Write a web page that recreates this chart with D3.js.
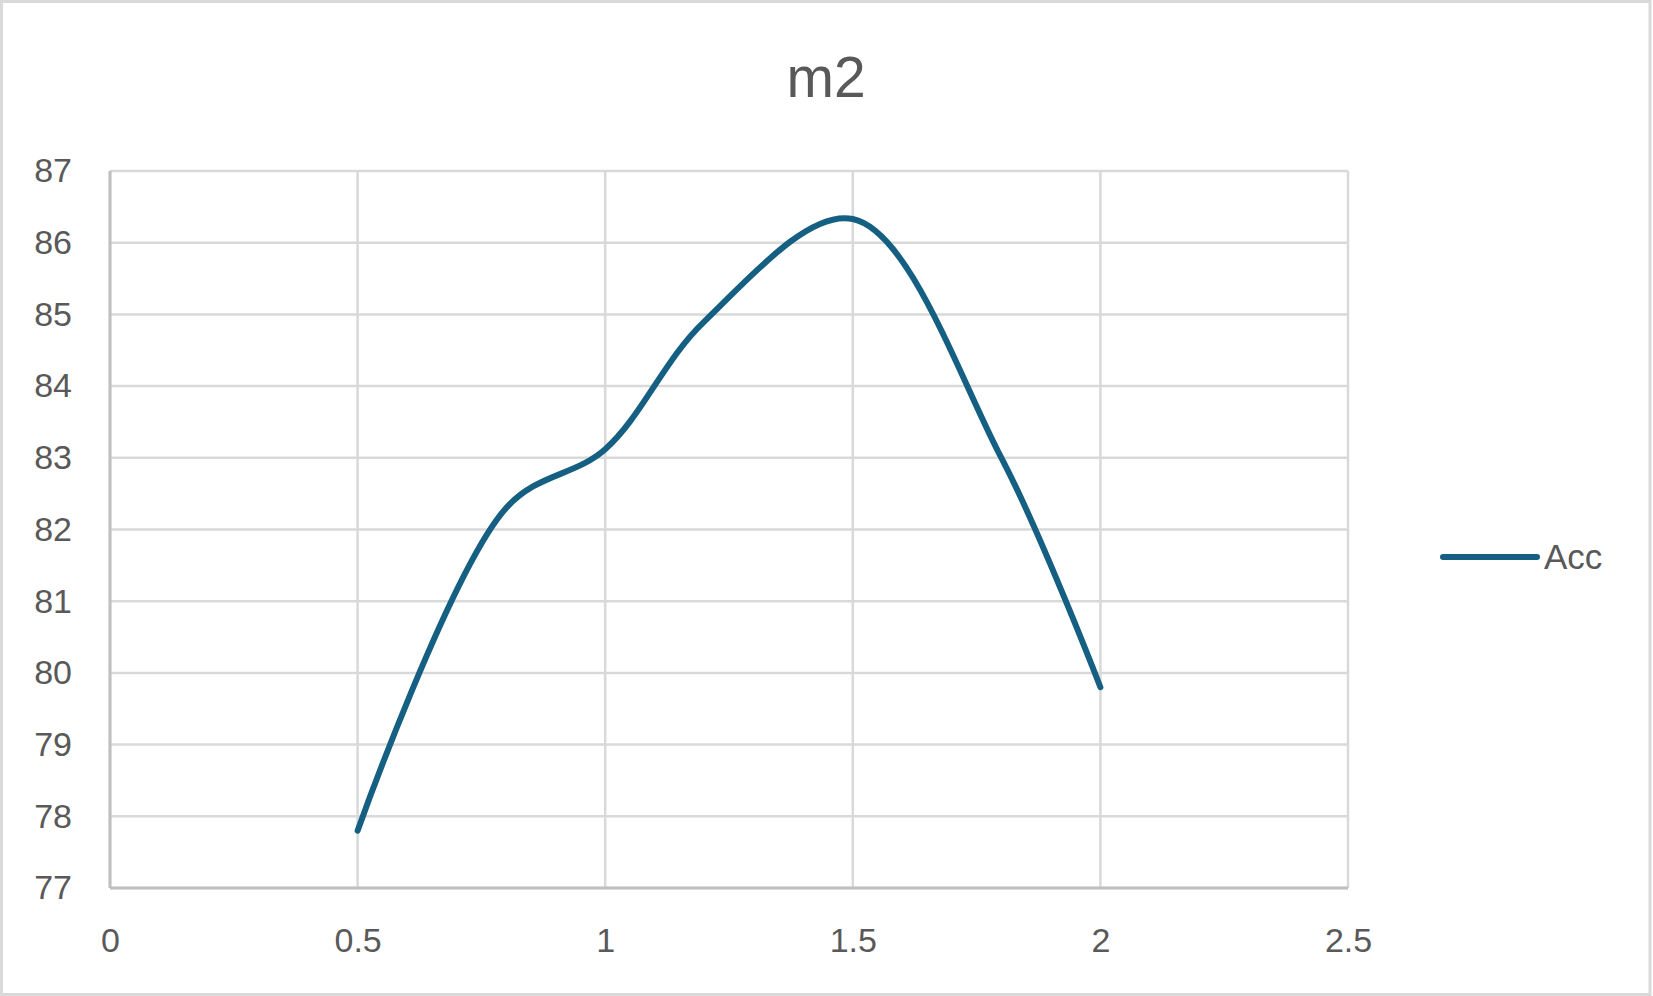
<!DOCTYPE html>
<html>
<head>
    <meta charset="utf-8">
    <style>
        body {
            margin: 0;
            background: #fff;
        }

        svg {
            display: block;
            font-family: "Liberation Sans", Arial, sans-serif;
        }

        .grid line {
            stroke: #d9d9d9;
            stroke-width: 2.5;
        }

        .tick text {
            font-size: 34px;
            fill: #595959;
        }

        .title {
            font-size: 57px;
            fill: #595959;
        }

        .legend-label {
            font-size: 35px;
            fill: #595959;
        }
    </style>
</head>

<body>
    <svg width="1653" height="996"></svg>

<script src="https://d3js.org/d3.v7.min.js"></script>

<script>
    // values
    let xValues = [0.5, 0.8, 1.0, 1.2, 1.5, 1.8, 2.0]
    let accValues = [77.8, 82.3, 83.12, 84.9, 86.33, 83.0, 79.8]
    let xTicks = [0, 0.5, 1, 1.5, 2, 2.5]
    let yTicks = [77, 78, 79, 80, 81, 82, 83, 84, 85, 86, 87]
    let seriesName = "Acc"
    let chartTitle = "m2"

    let width = 1653
    let height = 996
    let margin = { top: 171, right: 305, bottom: 108, left: 110 }

    let svg = d3.select("svg")

    // outer frame
    svg.append("rect")
        .attr("x", 1.5)
        .attr("y", 1.5)
        .attr("width", width - 4.5)
        .attr("height", height - 3)
        .attr("fill", "#fff")
        .attr("stroke", "#d9d9d9")
        .attr("stroke-width", 3)

    let x = d3.scaleLinear()
        .domain([0, 2.5])
        .range([margin.left, width - margin.right])

    let y = d3.scaleLinear()
        .domain([77, 87])
        .range([height - margin.bottom, margin.top])

    // gridlines
    let grid = svg.append("g").attr("class", "grid")

    grid.selectAll(".h")
        .data(yTicks)
        .join("line")
        .attr("class", "h")
        .attr("x1", x(0))
        .attr("x2", x(2.5))
        .attr("y1", d => y(d))
        .attr("y2", d => y(d))

    grid.selectAll(".v")
        .data(xTicks)
        .join("line")
        .attr("class", "v")
        .attr("x1", d => x(d))
        .attr("x2", d => x(d))
        .attr("y1", y(77))
        .attr("y2", y(87))

    // axis lines (darker)
    svg.append("line")
        .attr("x1", x(0)).attr("x2", x(2.5))
        .attr("y1", y(77)).attr("y2", y(77))
        .attr("stroke", "#bfbfbf")
        .attr("stroke-width", 3)

    svg.append("line")
        .attr("x1", x(0)).attr("x2", x(0))
        .attr("y1", y(77)).attr("y2", y(87))
        .attr("stroke", "#bfbfbf")
        .attr("stroke-width", 3)

    let xAxis = d3.axisBottom(x)
        .tickValues(xTicks)
        .tickSize(0)
        .tickPadding(40)
        .tickFormat(d3.format("~g"))

    let yAxis = d3.axisLeft(y)
        .tickValues(yTicks)
        .tickSize(0)
        .tickPadding(38)
        .tickFormat(d3.format("d"))

    svg.append("g")
        .attr("transform", `translate(0,${y(77)})`)
        .call(xAxis)
        .call(g => g.select(".domain").remove())
        .selectAll("text")
        .attr("font-family", null)
        .attr("font-size", null)

    svg.append("g")
        .attr("transform", `translate(${x(0)},0)`)
        .call(yAxis)
        .call(g => g.select(".domain").remove())
        .selectAll("text")
        .attr("font-family", null)
        .attr("font-size", null)

    // smoothed line, close to excel's smooth option
    let data = xValues.map((v, i) => ({ x: v, y: accValues[i] }))

    let line = d3.line()
        .x(d => x(d.x))
        .y(d => y(d.y))
        .curve(d3.curveCatmullRom.alpha(0.5))

    svg.append("path")
        .datum(data)
        .attr("fill", "none")
        .attr("stroke", "#156082")
        .attr("stroke-width", 6)
        .attr("stroke-linecap", "round")
        .attr("stroke-linejoin", "round")
        .attr("d", line)

    // title
    svg.append("text")
        .attr("class", "title")
        .attr("x", 826)
        .attr("y", 97)
        .attr("text-anchor", "middle")
        .text(chartTitle)

    // legend
    let legend = svg.append("g")
        .attr("transform", "translate(1443,557)")

    legend.append("line")
        .attr("x1", 0)
        .attr("x2", 94)
        .attr("stroke", "#156082")
        .attr("stroke-width", 6)
        .attr("stroke-linecap", "round")

    legend.append("text")
        .attr("class", "legend-label")
        .attr("x", 101)
        .attr("y", 12)
        .text(seriesName)
</script>
</body>
</html>
